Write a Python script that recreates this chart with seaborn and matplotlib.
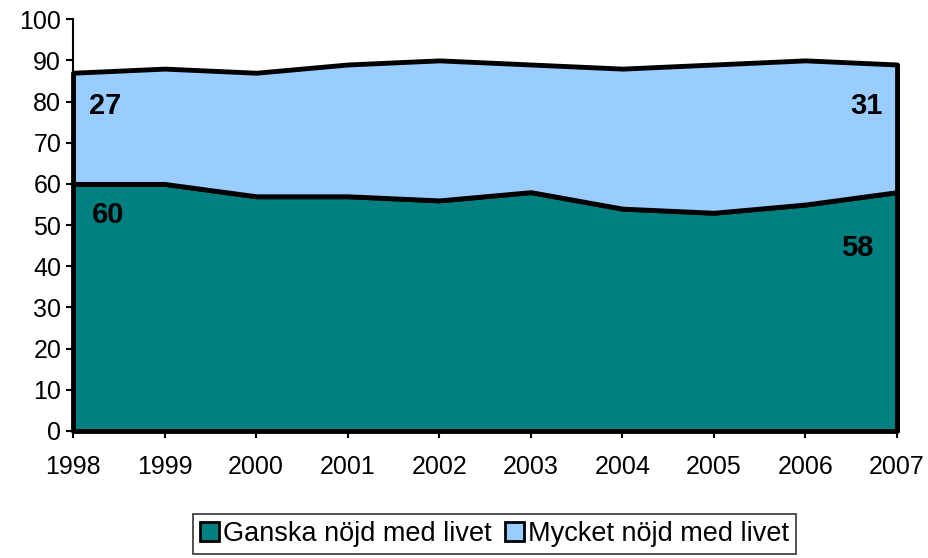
import matplotlib.pyplot as plt
import seaborn as sns
from matplotlib.patches import Patch

# data
years = [1998, 1999, 2000, 2001, 2002, 2003, 2004, 2005, 2006, 2007]
ganska = [60, 60, 57, 57, 56, 58, 54, 53, 55, 58]
mycket = [27, 28, 30, 32, 34, 31, 34, 36, 35, 31]
labels = ["Ganska nöjd med livet", "Mycket nöjd med livet"]
colors = ["#008080", "#99CCFF"]

sns.set_style("white")
plt.rcParams['font.family'] = ['Liberation Sans', 'DejaVu Sans']
plt.rcParams['text.color'] = 'black'

fig = plt.figure(figsize=(9.29, 5.58), dpi=100)
ax = fig.add_axes([0.0786, 0.2276, 0.887, 0.738])

polys = ax.stackplot(years, ganska, mycket, colors=colors,
                     edgecolor="black", linewidth=3.5)
for p in polys:
    p.set_clip_on(False)

ax.set_xlim(1998, 2007)
ax.set_ylim(0, 100)
ax.set_yticks(range(0, 101, 10))
ax.set_xticks(years)
ax.tick_params(axis="both", labelsize=18, direction="out", length=5, width=1.5,
               colors="black", left=True, bottom=True)
ax.tick_params(axis="x", pad=12)
for s in ["top", "right"]:
    ax.spines[s].set_visible(False)
for s in ["left", "bottom"]:
    ax.spines[s].set_color("black")
    ax.spines[s].set_linewidth(1.5)

# value labels at the ends
txt = dict(fontsize=21, fontweight="bold", ha="center", va="center", color="black")
ax.text(1998.35, 79, str(mycket[0]), **txt)
ax.text(1998.38, 52.5, str(ganska[0]), **txt)
ax.text(2006.67, 79, str(mycket[-1]), **txt)
ax.text(2006.56, 44.5, str(ganska[-1]), **txt)

handles = [Patch(facecolor=c, edgecolor="black", linewidth=2) for c in colors]
leg = fig.legend(handles, labels, loc="lower center", bbox_to_anchor=(0.532, 0.008),
                 ncol=2, fontsize=19.5, frameon=True, fancybox=False,
                 handlelength=0.7, handleheight=0.7, handletextpad=0.15,
                 columnspacing=0.5, borderpad=0.25, borderaxespad=0)
leg.get_frame().set_edgecolor("black")
leg.get_frame().set_linewidth(1.2)

fig.savefig("out.png", dpi=100)
